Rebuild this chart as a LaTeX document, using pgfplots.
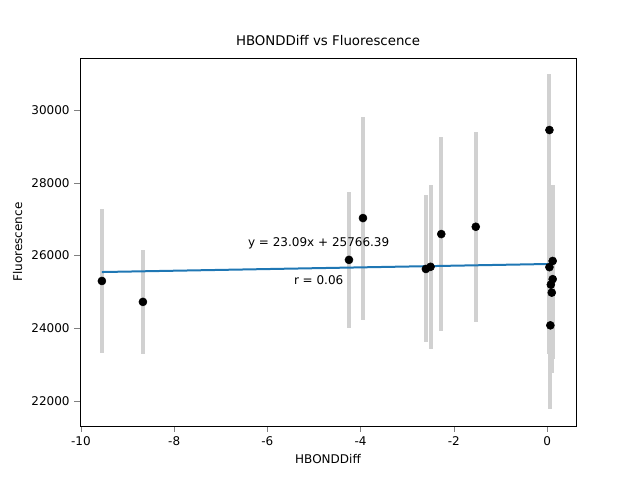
\documentclass[border=0pt]{standalone}
\usepackage{pgfplots}
\pgfplotsset{compat=1.18}
\usepackage{fontspec}
\setmainfont{DejaVu Sans}
\begin{document}
\begin{tikzpicture}
\useasboundingbox (-60pt,-40.5pt) rectangle (420pt,319.5pt);
\begin{axis}[at={(0,0)},anchor=south west,
  width=372pt,height=276pt,scale only axis,
  xmin=-10.02,xmax=0.62,ymin=21313,ymax=31430,
  title={HBONDDiff vs Fluorescence},
  xlabel={HBONDDiff},ylabel={Fluorescence},
  xtick={-10,-8,-6,-4,-2,0},ytick={22000,24000,26000,28000,30000},
  scaled y ticks=false,
  yticklabel style={/pgf/number format/1000 sep=},
  /pgf/number format/assume math mode=true,
  tick label style={font=\small},label style={font=\small},
  title style={font=\normalsize},
  tick align=outside, tick pos=left, axis line style={black}]
\addplot[draw=none,mark=*,mark size=3pt,black,
  error bars/.cd,y dir=both,y explicit,error mark=none,
  error bar style={line width=3pt,color=black!18}]
  coordinates {
  (-9.55,25300) +- (0,1970)
  (-8.67,24725) +- (0,1430)
  (-4.25,25880) +- (0,1860)
  (-3.95,27030) +- (0,2790)
  (-2.6,25630) +- (0,2020)
  (-2.5,25690) +- (0,2250)
  (-2.27,26590) +- (0,2670)
  (-1.53,26790) +- (0,2610)
  (0.05,29450) +- (0,1550)
  (0.12,25850) +- (0,2100)
  (0.05,25680) +- (0,2400)
  (0.12,25350) +- (0,2200)
  (0.08,25200) +- (0,2000)
  (0.1,24980) +- (0,2200)
  (0.07,24080) +- (0,2300)
  };
\addplot[color={rgb,255:red,31;green,119;blue,180},line width=1.5pt,no marks]
  coordinates {(-9.55,25545.9) (0.12,25769.2)};
\node[font=\small] at (axis cs:-4.9,26330) {y = 23.09x + 25766.39};
\node[font=\small] at (axis cs:-4.9,25330) {r = 0.06};
\end{axis}
\end{tikzpicture}
\end{document}
